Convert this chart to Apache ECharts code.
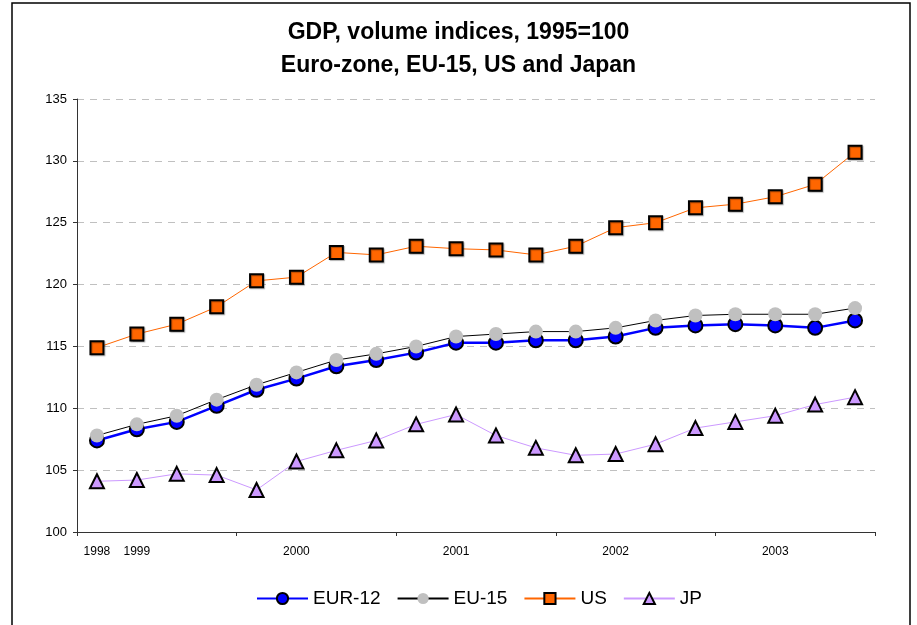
<!DOCTYPE html>
<html>
<head>
<meta charset="utf-8">
<script src="https://cdn.jsdelivr.net/npm/echarts@6/dist/echarts.min.js"></script>
<style>
html,body{margin:0;padding:0;background:#fff;}
#chart{width:917px;height:625px;}
</style>
</head>
<body>
<div id="chart"></div>
<script>
var categories = ['1998','1999','','','','2000','','','','2001','','','','2002','','','','2003','',''];
var eur12 = [107.4,108.3,108.9,110.2,111.5,112.4,113.4,113.9,114.5,115.3,115.3,115.5,115.5,115.8,116.5,116.7,116.8,116.7,116.5,117.1];
var eu15  = [107.8,108.7,109.4,110.7,111.9,112.9,113.9,114.4,115.0,115.8,116.0,116.2,116.2,116.5,117.1,117.5,117.6,117.6,117.6,118.1];
var us    = [114.9,116.0,116.8,118.2,120.3,120.6,122.6,122.4,123.1,122.9,122.8,122.4,123.1,124.6,125.0,126.2,126.5,127.1,128.1,130.7];
var jp    = [104.1,104.2,104.7,104.6,103.4,105.7,106.6,107.4,108.7,109.5,107.8,106.8,106.2,106.3,107.1,108.4,108.9,109.4,110.3,110.9];
var yTicks = [100,105,110,115,120,125,130,135];

var chart = echarts.init(document.getElementById('chart'), null, {renderer:'canvas'});
var font = 'Liberation Sans, Arial, sans-serif';
chart.setOption({
  animation:false,
  backgroundColor:'#fff',
  textStyle:{fontFamily:font},
  title:{
    text:'GDP, volume indices, 1995=100\nEuro-zone, EU-15, US and Japan',
    left:'center', top:11,
    textStyle:{fontFamily:font,fontSize:23,fontWeight:'bold',color:'#000',lineHeight:33}
  },
  graphic:[{
    type:'rect', shape:{x:12,y:3,width:898,height:630},
    style:{fill:'none',stroke:'#000',lineWidth:1.5}, silent:true, z:-1
  }],
  legend:{
    bottom:12, left:251, itemWidth:51, itemHeight:14, itemGap:16,
    textStyle:{fontFamily:font,fontSize:19,color:'#000'},
    data:['EUR-12','EU-15','US','JP']
  },
  grid:{left:77,right:42,top:99,bottom:93,containLabel:false},
  xAxis:{
    type:'category', data:categories, boundaryGap:true,
    axisLine:{lineStyle:{color:'#333',width:1}},
    axisTick:{show:true,length:4,interval:function(i){return i%4===0;},lineStyle:{color:'#333'}},
    axisLabel:{interval:0,fontSize:12,color:'#000',margin:14,fontFamily:font},
    splitLine:{show:false}
  },
  yAxis:{
    type:'value', min:yTicks[0], max:yTicks[yTicks.length-1], interval:5,
    axisLine:{show:true,lineStyle:{color:'#333',width:1}},
    axisTick:{show:true,length:4,lineStyle:{color:'#333'}},
    axisLabel:{fontSize:13,color:'#000',margin:10,fontFamily:font},
    splitLine:{show:true,lineStyle:{color:'#c0c0c0',type:[7,6],width:1}}
  },
  series:[
    {name:'EUR-12',type:'line',data:eur12,symbol:'circle',symbolSize:14,
     lineStyle:{color:'#0000ff',width:2.5},
     itemStyle:{color:'#0000ff',borderColor:'#000',borderWidth:2}},
    {name:'EU-15',type:'line',data:eu15,symbol:'circle',symbolSize:14,
     lineStyle:{color:'#000',width:1},
     itemStyle:{color:'#c0c0c0',borderWidth:0}},
    {name:'US',type:'line',data:us,symbol:'rect',symbolSize:13,
     lineStyle:{color:'#ff6600',width:1},
     itemStyle:{color:'#ff6600',borderColor:'#000',borderWidth:2,shadowColor:'rgba(0,0,0,0.3)',shadowOffsetX:1,shadowOffsetY:1,shadowBlur:1}},
    {name:'JP',type:'line',data:jp,symbol:'triangle',symbolSize:14,
     lineStyle:{color:'#cc99ff',width:1},
     itemStyle:{color:'#cc99ff',borderColor:'#000',borderWidth:2}}
  ]
});
</script>
</body>
</html>
